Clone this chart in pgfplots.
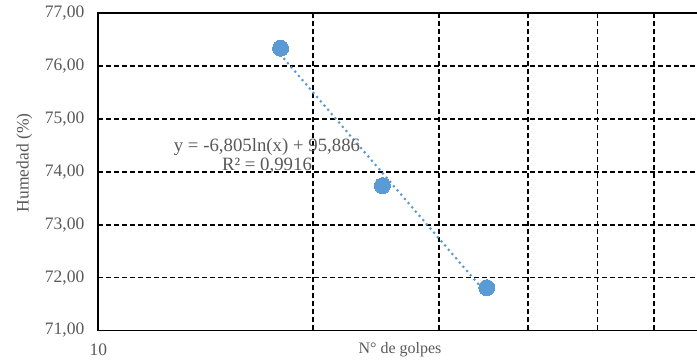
\documentclass[border=0pt]{standalone}
\usepackage{pgfplots}
\pgfplotsset{compat=1.18}
\usepackage{fontspec}
\setmainfont{Liberation Serif}
\definecolor{txt}{HTML}{595959}
\definecolor{ser}{HTML}{5B9BD5}
\begin{document}
\begin{tikzpicture}
\begin{axis}[
  at={(0,0)}, anchor=south west,
  scale only axis, width=603.4pt, height=317.2pt,
  xmode=log, log basis x=10,
  xmin=10, xmax=70, ymin=71, ymax=77,
  xtick={10}, xticklabels={10},
  minor xtick={20,30,40,50,60},
  ytick={71,72,73,74,75,76,77},
  /pgf/number format/assume math mode=true,
  yticklabel style={/pgf/number format/fixed, /pgf/number format/fixed zerofill,
     /pgf/number format/precision=2, /pgf/number format/use comma,
     font=\fontsize{17.5}{20}\selectfont, text=txt, xshift=-10.5pt},
  xticklabel style={font=\fontsize{17.5}{20}\selectfont, text=txt, yshift=-10pt},
  major tick length=0pt, minor tick length=0pt,
  xminorgrids=true, ymajorgrids=true, xmajorgrids=false,
  grid style={black, line width=1.7pt, dash pattern=on 5pt off 3pt},
  minor grid style={black, line width=1.7pt, dash pattern=on 5pt off 3pt},
  axis line style={black, line width=1.8pt},
  xlabel={N° de golpes},
  ylabel={Humedad (\%)},
  xlabel style={font=\fontsize{16}{19}\selectfont, text=txt, at={(rel axis cs:0.5,0)}, anchor=north, yshift=-8pt},
  every axis y label/.style={at={(rel axis cs:0,0.5)}, anchor=center, rotate=90},
  ylabel style={font=\fontsize{17.5}{20}\selectfont, text=txt, yshift=74pt, xshift=9pt},
  clip=false,
]
\addplot[ser, line width=3pt, dash pattern=on 0pt off 5.6pt, line cap=round] coordinates {(18,76.217) (35,71.692)};
\addplot[only marks, mark=*, mark size=8pt, mark options={fill=ser, draw=ser, line width=0pt}] coordinates {(18,76.34) (25,73.74) (35,71.81)};
\node[align=center, text=txt, font=\fontsize{18.8}{19.5}\selectfont, inner sep=0pt] at (rel axis cs:0.2796,0.55) {y = -6,805ln(x) + 95,886\\R² = 0,9916};
\end{axis}
\pgfresetboundingbox
\path (-98.3pt,-33.5pt) rectangle (598.7pt,330.5pt);
\end{tikzpicture}
\end{document}
